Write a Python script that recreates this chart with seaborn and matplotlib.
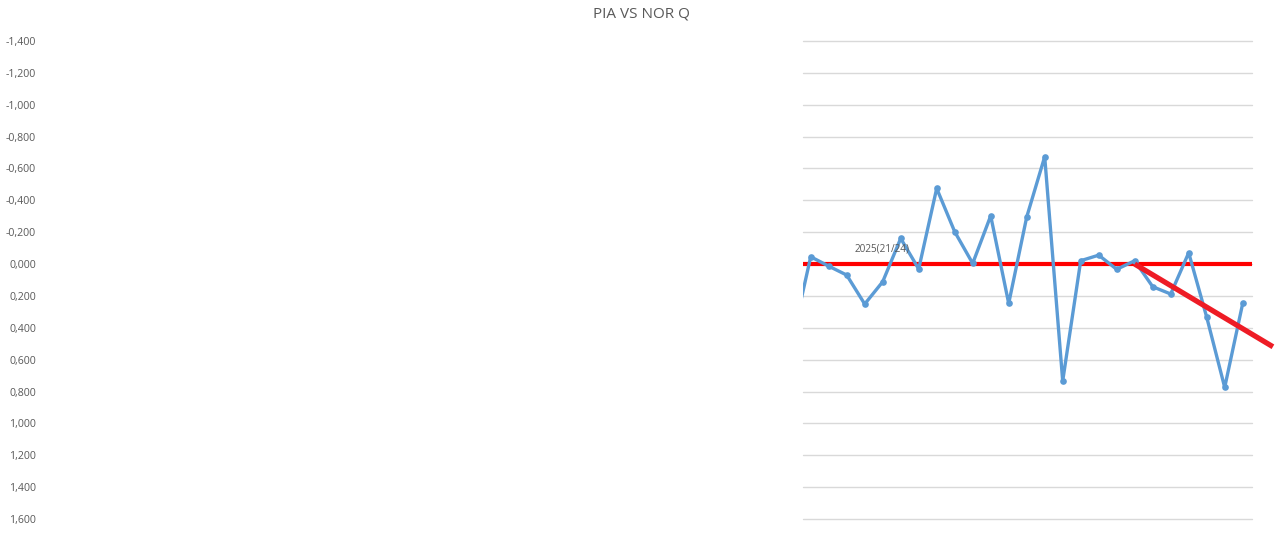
import matplotlib
matplotlib.use("Agg")
import matplotlib.pyplot as plt
import seaborn as sns
import pandas as pd
import numpy as np
from matplotlib.ticker import FuncFormatter, MultipleLocator

# ---- data ----
period = list(range(-1, 25))
values = [0.46, -0.046, 0.013, 0.069, 0.251, 0.111, -0.161, 0.031, -0.475, -0.203,
          -0.004, -0.303, 0.247, -0.295, -0.674, 0.734, -0.021, -0.056, 0.033,
          -0.021, 0.142, 0.188, -0.071, 0.333, 0.774, 0.247]
trend_x = [18, 25.68]
trend_y = [0.0, 0.519]
title = "PIA VS NOR Q"
note = "2025(21/24)"

df = pd.DataFrame({"period": period, "value": values})

sns.set_theme(style="white")
plt.rcParams["font.family"] = ["Open Sans", "DejaVu Sans"]

W, H = 1280, 542
fig = plt.figure(figsize=(W / 100, H / 100), dpi=100)
left, right, top, bottom = 803, 1252, 41, 519
ax = fig.add_axes([left / W, 1 - bottom / H, (right - left) / W, (bottom - top) / H])

gray = "#595959"

# gridlines
ax.set_ylim(1.6, -1.4)
ax.yaxis.set_major_locator(MultipleLocator(0.2))
ax.grid(axis="y", color="#d9d9d9", linewidth=1.0)
ax.grid(axis="x", visible=False)

# zero reference line
ax.axhline(0, color="#ff0000", linewidth=3.0, zorder=2)

sns.lineplot(data=df, x="period", y="value", ax=ax, color="#5b9bd5",
             linewidth=2.4, marker="o", markersize=4.8, markeredgewidth=0,
             zorder=3)

# trend line
ax.plot(trend_x, trend_y, color="#ee1c25", linewidth=3.8, zorder=4,
        clip_on=False, solid_capstyle="butt")

ax.set_xlim((803 - 810.7) / 18, (1252 - 810.7) / 18)

def fmt(v, pos):
    s = f"{v:.3f}".replace(".", ",")
    if s == "-0,000":
        s = "0,000"
    return s

ax.yaxis.set_major_formatter(FuncFormatter(fmt))
pad_pt = (left - 36) * 0.72
ax.tick_params(axis="y", length=0, pad=pad_pt, labelsize=7.6, labelcolor=gray)
ax.set_xticks([])
ax.set_xlabel("")
ax.set_ylabel("")
for sp in ax.spines.values():
    sp.set_visible(False)
for gl in ax.get_ygridlines():
    gl.set_clip_on(False)

ax.text((855 - 810.7) / 18, (249.3 - 264) / 159.3, note, fontsize=7.2,
        color=gray, ha="left", va="center", zorder=5)

fig.text(641 / W, 1 - 14.5 / H, title, fontsize=11, color=gray,
         ha="center", va="center")

fig.savefig("out.png", dpi=100, facecolor="white")
